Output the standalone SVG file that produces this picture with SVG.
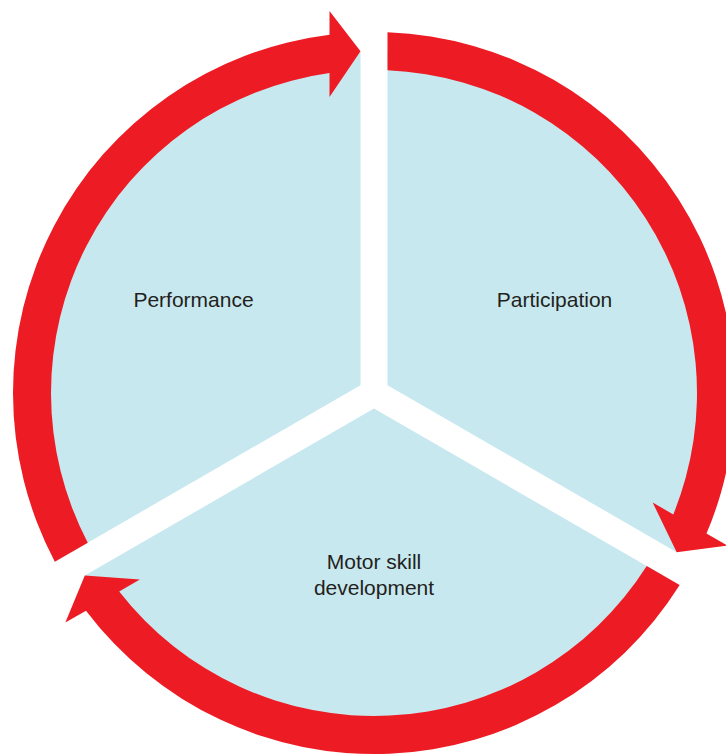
<svg xmlns="http://www.w3.org/2000/svg" width="726" height="755" viewBox="0 0 726 755">
<style>
.sector{fill:#C8E8EF;stroke:none}
.arrow{fill:#ED1C24;stroke:none}
.label{font-family:"Liberation Sans",Arial,sans-serif;font-size:21px;fill:#231F20;text-anchor:middle}
</style>
<rect width="726" height="755" fill="#FFFFFF"/>
<g id="node-participation">
<path class="sector" d="M 387.5 385.206 L 387.5 51.267 A 342 342 0 0 1 676.7 552.176 Z"/>
<text class="label" x="554.5" y="307">Participation</text>
</g>
<g id="node-motor-skill">
<path class="sector" d="M 374 408.588 L 663.2 575.558 A 342 342 0 0 1 84.8 575.558 Z"/>
<text class="label" x="374" y="569">Motor skill</text>
<text class="label" x="374" y="595">development</text>
</g>
<g id="node-performance">
<path class="sector" d="M 360.5 385.206 L 71.3 552.176 A 342 342 0 0 1 360.5 51.267 Z"/>
<text class="label" x="193.5" y="307">Performance</text>
</g>
<g id="connectors">
<path class="arrow" d="M 387.5 32.252 A 361 361 0 0 1 706.492 533.587 L 727.144 545.51 L 676.691 552.176 L 652.666 502.51 L 673.301 514.423 A 323 323 0 0 0 387.5 70.282 Z"/>
<path class="arrow" d="M 679.658 585.065 A 361 361 0 0 1 86.008 610.661 L 65.356 622.584 L 84.809 575.558 L 139.834 579.584 L 119.199 591.497 A 323 323 0 0 0 646.724 566.05 Z"/>
<path class="arrow" d="M 54.842 561.683 A 361 361 0 0 1 329.5 34.753 L 329.5 10.907 L 360.5 51.267 L 329.5 96.907 L 329.5 73.08 A 323 323 0 0 0 87.776 542.668 Z"/>
</g>
</svg>
